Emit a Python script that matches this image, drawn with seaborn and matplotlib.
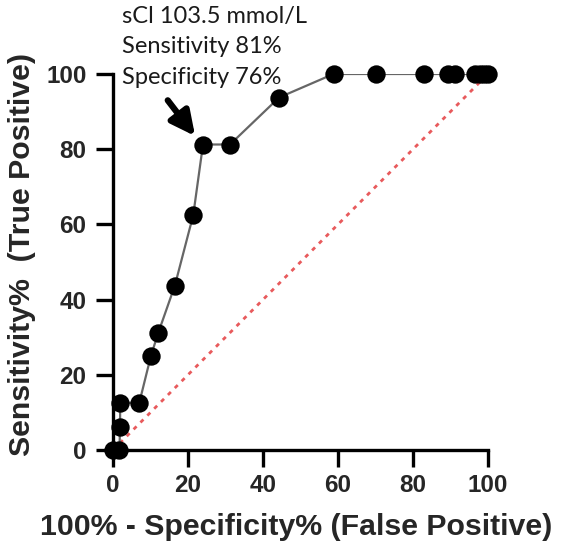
import matplotlib
matplotlib.use("Agg")
import matplotlib.pyplot as plt
import seaborn as sns
import pandas as pd

# ROC curve data (100% - specificity, sensitivity)
fpr = [0.0, 1.7, 1.9, 1.9, 7.0, 10.1, 12.1, 16.5, 21.4, 24.0, 31.2, 44.3,
       58.8, 70.0, 82.9, 89.4, 91.2, 96.4, 97.8, 99.0, 100.0]
sens = [0.0, 0.0, 6.25, 12.5, 12.5, 25.0, 31.25, 43.75, 62.5, 81.25, 81.25, 93.75,
        100.0, 100.0, 100.0, 100.0, 100.0, 100.0, 100.0, 100.0, 100.0]
ref_line = [0, 100]
ticks = [0, 20, 40, 60, 80, 100]
annot_lines = ["sCl 103.5 mmol/L", "Sensitivity 81%", "Specificity 76%"]

df = pd.DataFrame({"fpr": fpr, "sens": sens})

sns.set_style("ticks")
plt.rcParams["font.family"] = ["Liberation Sans", "DejaVu Sans"]

fig = plt.figure(figsize=(5.64, 5.55), dpi=100)
ax = fig.add_axes([113 / 564, 105 / 555, 375 / 564, 376 / 555])

# reference diagonal
sns.lineplot(x=ref_line, y=ref_line, ax=ax, color="#e85a5c", lw=2,
             linestyle=(0, (1.5, 2.0)), zorder=1)
# ROC line
sns.lineplot(data=df, x="fpr", y="sens", ax=ax, sort=False, color="#666666",
             lw=1.6, zorder=2, estimator=None)
# markers
sns.scatterplot(data=df, x="fpr", y="sens", ax=ax, color="black", s=175,
                edgecolor="black", linewidth=0, zorder=5, clip_on=False)

ax.set_xlim(0, 100)
ax.set_ylim(0, 100)
ax.set_xticks(ticks)
ax.set_yticks(ticks)
ax.set_xticklabels([str(t) for t in ticks], fontsize=17.5, fontweight="bold")
ax.set_yticklabels([str(t) for t in ticks], fontsize=17.5, fontweight="bold")
ax.tick_params(axis="both", length=12, width=2.4, color="black")
ax.tick_params(axis="y", pad=7)
ax.tick_params(axis="x", pad=5)
for s in ["left", "bottom"]:
    ax.spines[s].set_linewidth(2.4)
    ax.spines[s].set_color("black")
sns.despine(ax=ax)

ax.set_xlabel("100% - Specificity% (False Positive)", fontsize=21.8,
              fontweight="bold", va="center")
ax.set_ylabel("Sensitivity%  (True Positive)", fontsize=21.8,
              fontweight="bold", va="center")
ax.xaxis.set_label_coords(0.488, -0.205)
ax.yaxis.set_label_coords(-0.243, 0.52)

# annotation
ax.annotate("", xy=(21.9, 83.5), xytext=(14.6, 93.0),
            arrowprops=dict(arrowstyle="-|>,head_length=1.45,head_width=0.72",
                            color="black", lw=4.5, shrinkA=0, shrinkB=0),
            annotation_clip=False)
for i, line in enumerate(annot_lines):
    ax.text(2.4, 115.2 - i * 8.0, line, fontsize=17, family=["Lato", "DejaVu Sans"],
            va="center", ha="left", clip_on=False, color="#1a1a1a")

fig.savefig("out.png", dpi=100)
